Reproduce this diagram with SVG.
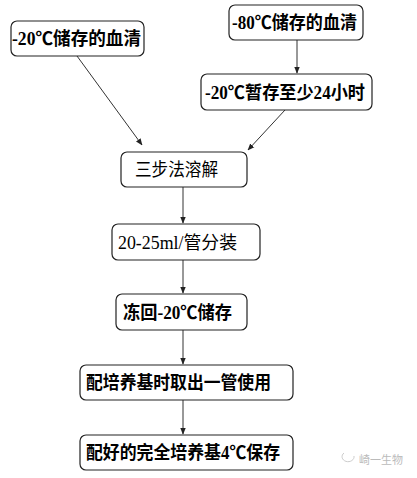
<svg xmlns="http://www.w3.org/2000/svg" width="417" height="478" viewBox="0 0 417 478">
<style>
.box{fill:#fff;stroke:#222;stroke-width:1.2}
.t{font-family:"Liberation Serif","Noto Sans CJK SC",serif;font-size:18px;font-weight:bold;fill:#000}
.tn{font-family:"Liberation Serif","Noto Sans CJK SC",serif;font-size:18px;font-weight:normal;fill:#000}
.ln{stroke:#333;stroke-width:1;fill:none;marker-end:url(#ah)}
.wm{font-family:"Noto Sans CJK SC",sans-serif;font-size:11px;fill:#bbb}
</style>
<defs>
<marker id="ah" viewBox="0 0 10 10" refX="9" refY="5" markerWidth="7" markerHeight="7" markerUnits="userSpaceOnUse" orient="auto">
<path d="M0,1 L10,5 L0,9 Z" fill="#222"/>
</marker>
</defs>
<rect width="417" height="478" fill="#fff"/>
<g id="connectors">
<line class="ln" x1="77" y1="56" x2="142" y2="145"/>
<line class="ln" x1="297" y1="40" x2="297" y2="73"/>
<line class="ln" x1="285" y1="110" x2="248" y2="150"/>
<line class="ln" x1="183" y1="187" x2="183" y2="223"/>
<line class="ln" x1="183" y1="260" x2="183" y2="293"/>
<line class="ln" x1="183" y1="330" x2="183" y2="364"/>
<line class="ln" x1="183" y1="400" x2="183" y2="434"/>
</g>
<g id="n1"><rect class="box" x="11" y="21" width="133" height="35" rx="6"/><text class="t" x="12" y="45" textLength="129" lengthAdjust="spacingAndGlyphs">-20℃储存的血清</text></g>
<g id="n2"><rect class="box" x="229" y="5" width="134" height="35" rx="6"/><text class="t" x="232" y="29" textLength="125" lengthAdjust="spacingAndGlyphs">-80℃储存的血清</text></g>
<g id="n3"><rect class="box" x="201" y="74" width="171" height="36" rx="6"/><text class="t" x="205" y="98.5" textLength="160" lengthAdjust="spacingAndGlyphs">-20℃暂存至少24小时</text></g>
<g id="n4"><rect class="box" x="121" y="152" width="126" height="35" rx="6"/><text class="tn" x="135" y="176" textLength="83" lengthAdjust="spacingAndGlyphs">三步法溶解</text></g>
<g id="n5"><rect class="box" x="112" y="224" width="148" height="36" rx="6"/><text class="tn" x="118" y="248.5" textLength="119" lengthAdjust="spacingAndGlyphs">20-25ml/管分装</text></g>
<g id="n6"><rect class="box" x="116" y="294" width="131" height="36" rx="6"/><text class="t" x="123" y="318.5" textLength="109" lengthAdjust="spacingAndGlyphs">冻回-20℃储存</text></g>
<g id="n7"><rect class="box" x="80" y="365" width="213" height="35" rx="6"/><text class="t" x="86" y="389" textLength="185" lengthAdjust="spacingAndGlyphs">配培养基时取出一管使用</text></g>
<g id="n8"><rect class="box" x="80" y="435" width="213" height="35" rx="6"/><text class="t" x="86" y="459" textLength="194" lengthAdjust="spacingAndGlyphs">配好的完全培养基4℃保存</text></g>
<g id="watermark">
<path d="M344,453 a6,5 0 1,0 10,3" fill="none" stroke="#ccc" stroke-width="1"/>
<text class="wm" x="359" y="464">崎一生物</text>
</g>
</svg>
